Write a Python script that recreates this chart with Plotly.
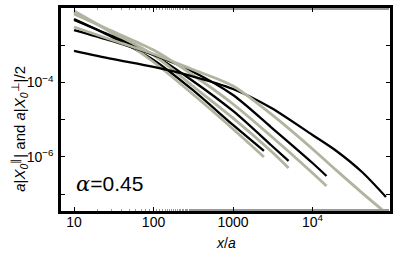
import plotly.graph_objects as go

# x/a sample points for the four pairs of curves
x_A = [10, 30, 100, 300, 1000, 2450]
x_B = [10, 30, 100, 300, 1000, 3000, 5000]
x_C = [10, 30, 100, 300, 1000, 3000, 10000, 15000]
x_D = [10, 30, 100, 300, 1000, 3000, 10000, 20000, 42000, 84000]

# black curves: a|X0^par|
par_A = [5.07e-3, 1.66e-3, 4.02e-4, 6.70e-5, 7.23e-6, 1.45e-6]
par_B = [4.76e-3, 1.77e-3, 5.47e-4, 1.17e-4, 1.72e-5, 2.10e-6, 7.82e-7]
par_C = [2.56e-3, 1.30e-3, 5.47e-4, 2.04e-4, 4.61e-5, 6.38e-6, 6.90e-7, 3.09e-7]
par_D = [7.02e-4, 4.28e-4, 2.61e-4, 1.49e-4, 6.70e-5, 2.10e-5, 3.90e-6, 1.45e-6, 3.95e-7, 8.43e-8]

# gray curves: a|X0^perp|/2
perp_A = [8.31e-3, 2.13e-3, 3.55e-4, 5.22e-5, 5.65e-6, 1.00e-6]
perp_B = [7.57e-3, 2.27e-3, 5.47e-4, 8.57e-5, 1.11e-5, 1.45e-6, 5.07e-7]
perp_C = [6.90e-3, 2.42e-3, 7.45e-4, 1.69e-4, 2.65e-5, 3.66e-6, 3.72e-7, 1.66e-7]
perp_D = [3.09e-3, 1.38e-3, 5.82e-4, 2.30e-4, 8.05e-5, 1.43e-5, 1.64e-6, 4.36e-7, 1.09e-7, 3.14e-8]

x_tickvals = [10, 100, 1000, 10000]
x_ticktext = ["10", "100", "1000", "10<sup>4</sup>"]
y_tickvals = [1e-2, 1e-3, 1e-4, 1e-5, 1e-6, 1e-7]
y_ticktext = ["10<sup>\u22122</sup>", "", "10<sup>\u22124</sup>", "", "10<sup>\u22126</sup>", ""]

BLACK = "#000000"
GRAY = "rgb(178,180,160)"

fig = go.Figure()
pairs = [(x_A, par_A, perp_A), (x_B, par_B, perp_B), (x_C, par_C, perp_C), (x_D, par_D, perp_D)]
for xs, par, perp in pairs:
    fig.add_trace(go.Scatter(x=xs, y=par, mode="lines",
                             line=dict(color=BLACK, width=2.3, shape="spline", smoothing=0.8),
                             showlegend=False, hoverinfo="skip"))
    fig.add_trace(go.Scatter(x=xs, y=perp, mode="lines",
                             line=dict(color=GRAY, width=2.8, shape="spline", smoothing=0.8),
                             showlegend=False, hoverinfo="skip"))

FONT = "Liberation Sans, Arial, sans-serif"

fig.update_layout(
    width=395, height=255,
    margin=dict(l=61, r=5, t=8, b=44, autoexpand=False),
    paper_bgcolor="white", plot_bgcolor="white",
    font=dict(family=FONT, size=14, color="black"),
    showlegend=False,
)
fig.update_xaxes(
    type="log", range=[0.836, 4.975], automargin=False,
    tickvals=x_tickvals, ticktext=x_ticktext,
    ticks="inside", ticklen=4, tickwidth=1, tickcolor="black",
    showline=True, linecolor="black", linewidth=2.5, mirror="ticks",
    showgrid=False, zeroline=False,
    tickfont=dict(family=FONT, size=14),
    ticklabelstandoff=-4,
    minor=dict(ticks="inside", ticklen=2, tickcolor="#999999", showgrid=False),
)
fig.update_yaxes(
    type="log", range=[-7.45, -2.0], automargin=False,
    tickvals=y_tickvals, ticktext=y_ticktext,
    ticks="inside", ticklen=4, tickwidth=1, tickcolor="black",
    showline=True, linecolor="black", linewidth=2.5, mirror="ticks",
    showgrid=False, zeroline=False,
    tickfont=dict(family=FONT, size=14),
    ticklabelstandoff=2,
)

fig.add_annotation(
    xref="paper", yref="paper", x=0.5, y=-0.158, yanchor="middle",
    text="<i>x</i>/<i>a</i>", showarrow=False,
    font=dict(family=FONT, size=14),
)
fig.add_annotation(
    xref="paper", yref="paper", x=-0.125, y=0.404, xanchor="center", yanchor="middle",
    textangle=-90,
    text="<i>a</i>|<i>X</i><sub><i>0</i></sub><sup>\u2225</sup>| and <i>a</i>|<i>X</i><sub><i>0</i></sub><sup>\u22a5</sup>|/2",
    showarrow=False, font=dict(family=FONT, size=15),
)
fig.add_annotation(
    xref="paper", yref="paper", x=0.040, y=0.133, xanchor="left", yanchor="middle",
    text="<i><span style='font-family:DejaVu Serif, serif'>\u03b1</span></i>=0.45", showarrow=False,
    font=dict(family=FONT, size=21),
)

fig.write_html("out.html", config={"displayModeBar": False},
               post_script="document.body.style.margin='0px';")
